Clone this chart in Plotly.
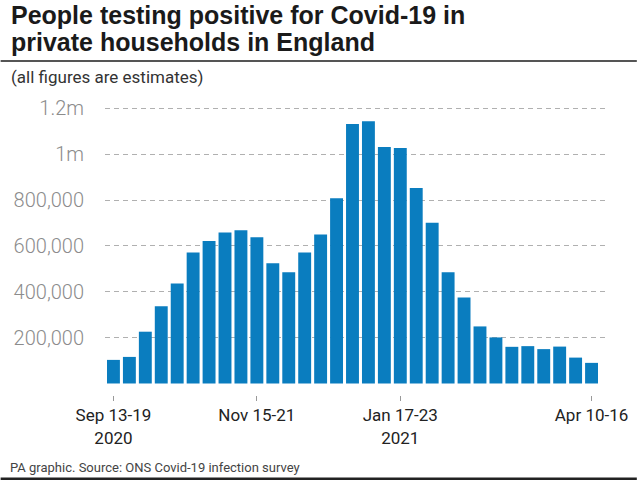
import plotly.graph_objects as go

weeks = ["Sep 13-19", "Sep 20-26", "Sep 27-Oct 3", "Oct 4-10", "Oct 11-17", "Oct 18-24",
         "Oct 25-31", "Nov 1-7", "Nov 8-14", "Nov 15-21", "Nov 22-28", "Nov 29-Dec 5",
         "Dec 6-12", "Dec 13-19", "Dec 20-26", "Dec 27-Jan 2", "Jan 3-9", "Jan 10-16",
         "Jan 17-23", "Jan 24-30", "Jan 31-Feb 6", "Feb 7-13", "Feb 14-20", "Feb 21-27",
         "Feb 28-Mar 6", "Mar 7-13", "Mar 14-20", "Mar 21-27", "Mar 28-Apr 3", "Apr 4-9",
         "Apr 10-16"]
positives = [103000, 116000, 226000, 337000, 436000, 571000, 622000, 659000, 669000, 638000,
             525000, 485000, 571000, 650000, 808000, 1132000, 1144000, 1032000, 1027000, 853000,
             701000, 485000, 375000, 249000, 201000, 160000, 163000, 150000, 161000, 113000,
             90000]
tick_weeks = ["Sep 13-19", "Nov 15-21", "Jan 17-23", "Apr 10-16"]
tick_text = ["Sep 13-19<br>2020", "Nov 15-21", "Jan 17-23<br>2021", "Apr 10-16"]
y_ticks = [200000, 400000, 600000, 800000, 1000000, 1200000]
y_text = ["200,000", "400,000", "600,000", "800,000", "1m", "1.2m"]

L, R, T, B = 105, 30, 97, 85
W, H = 640, 480
pw, ph = W - L - R, H - T - B

def px(x):
    return (x - L) / pw

def py(y):
    return (H - B - y) / ph

fig = go.Figure()
fig.add_trace(go.Bar(x=weeks, y=positives, marker=dict(color="#0a7dbf", line=dict(width=0)),
                     hoverinfo="x+y"))

fig.update_layout(
    width=W, height=H, autosize=False,
    margin=dict(l=L, r=R, t=T, b=B, pad=0),
    paper_bgcolor="white", plot_bgcolor="white",
    showlegend=False, bargap=0.19,
    font=dict(family="Roboto, Liberation Sans, Arial, sans-serif"),
    xaxis=dict(
        type="category", range=[-0.53, 30.97], tickmode="array",
        tickvals=tick_weeks, ticktext=tick_text,
        ticks="outside", ticklen=5, tickwidth=1, tickcolor="#999",
        showgrid=False, showline=False, zeroline=False,
        tickfont=dict(size=17, color="#222"),
    ),
    yaxis=dict(
        range=[-50200, 1250000], tickmode="array", tickvals=y_ticks, ticktext=y_text,
        showgrid=True, gridcolor="#b0b0b0", gridwidth=1, griddash="5px,4px",
        zeroline=False, showline=False,
        ticks="outside", ticklen=16, tickcolor="rgba(0,0,0,0)",
        tickfont=dict(size=20, color="#8c8c8c", weight=300),
    ),
)

title_font = dict(family="Liberation Sans, Arial, sans-serif", size=25, color="#1a1a1a",
                  weight="bold")
anns = [
    dict(text="People testing positive for Covid-19 in", x=px(8), y=py(15), font=title_font),
    dict(text="private households in England", x=px(8), y=py(42), font=title_font),
    dict(text="(all figures are estimates)", x=px(8), y=py(77),
         font=dict(size=17, color="#333")),
    dict(text="PA graphic. Source: ONS Covid-19 infection survey", x=px(7), y=py(467),
         font=dict(size=13, color="#444")),
]
for a in anns:
    fig.add_annotation(xref="paper", yref="paper", xanchor="left", yanchor="middle",
                       showarrow=False, **a)

fig.add_shape(type="line", xref="paper", yref="paper", x0=px(0), x1=px(640),
              y0=py(61), y1=py(61), line=dict(color="#555", width=2))
fig.add_shape(type="rect", xref="paper", yref="paper", x0=px(0), x1=px(640),
              y0=py(477.5), y1=py(481), fillcolor="#222", line=dict(width=0))

fig.write_html("out.html")
